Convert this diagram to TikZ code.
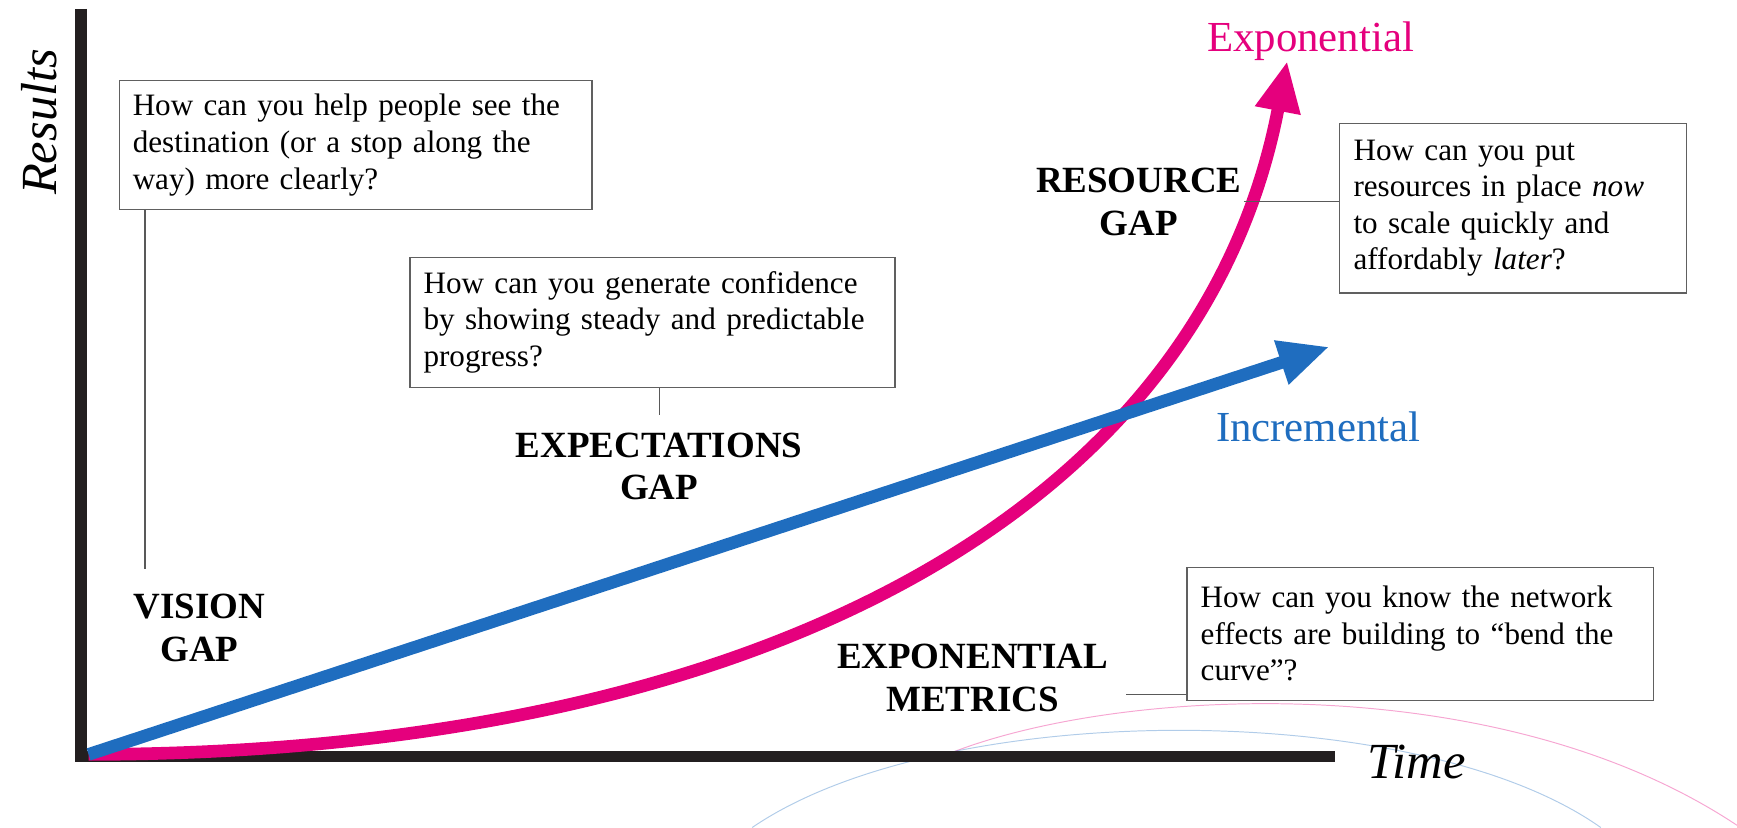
\documentclass[tikz,border=0pt]{standalone}
\usepackage{fontspec}
\setmainfont{Liberation Serif}
\usetikzlibrary{positioning,arrows.meta}
\definecolor{exppink}{HTML}{E5007D}
\definecolor{incblue}{HTML}{1F6DBF}
\definecolor{axisblack}{HTML}{231F20}

\begin{document}
\begin{tikzpicture}[%
    x=0.02cm,
    y=-0.02cm,
    axis/.style={%
      line width=6pt,
      draw=axisblack
    },
    question/.style={%
      draw=gray!75!black,
      line width=0.6pt,
      fill=white,
      align=left,
      inner xsep=7pt,
      font=\fontsize{16}{18.8}\selectfont
    },
    gap/.style={%
      align=center,
      inner sep=1pt,
      font=\fontsize{19}{22}\selectfont\bfseries
    },
    link/.style={%
      draw=gray!70!black,
      line width=0.6pt
    },
    trend/.style={%
      line width=6.5pt,
      -{Triangle[length=26pt,width=22pt]}
    },
    ghost/.style={%
      line width=0.5pt,
      opacity=0.35
    }
  ]
    \useasboundingbox (0,0) rectangle (1568,747);

    % faint arcs behind the axis
    \draw[ghost, exppink] (850,683) .. controls (1000,620) and (1350,600) .. (1568,745);
    \draw[ghost, incblue] (679,747) .. controls (850,630) and (1280,630) .. (1445,747);

    % axes
    \coordinate (ytop)   at (73,8);
    \coordinate (origin) at (73,683);
    \coordinate (xend)   at (1205,683);
    \draw[axis] (ytop) -- (origin) -- (xend);

    \node[font=\fontsize{26}{30}\selectfont\itshape, rotate=90] (results) at (35,110) {Results};
    \node[font=\fontsize{26}{30}\selectfont\itshape, anchor=west] (time) at (1228,688) {Time};

    % growth curves
    \coordinate (start)   at (80,681);
    \coordinate (exptip)  at (1162,55);
    \coordinate (inctip)  at (1200,313);
    \draw[trend, exppink] (start) .. controls (690,680) and (1085,458) .. (exptip);
    \draw[trend, incblue] (start) -- (inctip);

    \node[exppink, font=\fontsize{22}{26}\selectfont] (explabel) at (1183,37)  {Exponential};
    \node[incblue, font=\fontsize{22}{26}\selectfont] (inclabel) at (1190,385) {Incremental};

    % questions
    \node[question, text width=8.54cm-14pt, minimum height=2.34cm] (qvision) at (321,131)
      {How can you help people see the\\destination (or a stop along the\\way) more clearly?};
    \node[question, text width=8.76cm-14pt, minimum height=2.34cm] (qexpect) at (589,291)
      {How can you generate confidence\\by showing steady and predictable\\progress?};
    \node[question, text width=6.26cm-14pt, minimum height=3.06cm] (qresource) at (1366,188)
      {How can you put\\resources in place \textit{now}\\to scale quickly and\\affordably \textit{later}?};
    \node[question, text width=8.42cm-14pt, minimum height=2.4cm] (qmetrics) at (1282,572)
      {How can you know the network\\effects are building to ``bend the\\curve''?};

    % gaps
    \node[gap] (vision)   at (180,567)  {VISION\\GAP};
    \node[gap] (expect)   at (595,421)  {EXPECTATIONS\\GAP};
    \node[gap] (resource) at (1028,182) {RESOURCE\\GAP};
    \node[gap] (metrics)  at (878,612)  {EXPONENTIAL\\METRICS};

    \coordinate (vtop) at ([xshift=7pt,yshift=12pt]vision.north west);
    \draw[link] (qvision.south -| vtop) -- (vtop);
    \draw[link] (qexpect.south -| expect.north) -- ([yshift=8pt]expect.north);
    \draw[link] (resource.east) -- (resource.east -| qresource.west);
    \draw[link] ([yshift=3pt]qmetrics.south west) -- ([xshift=8pt,yshift=3pt]qmetrics.south west -| metrics.east);
  \end{tikzpicture}
\end{document}
